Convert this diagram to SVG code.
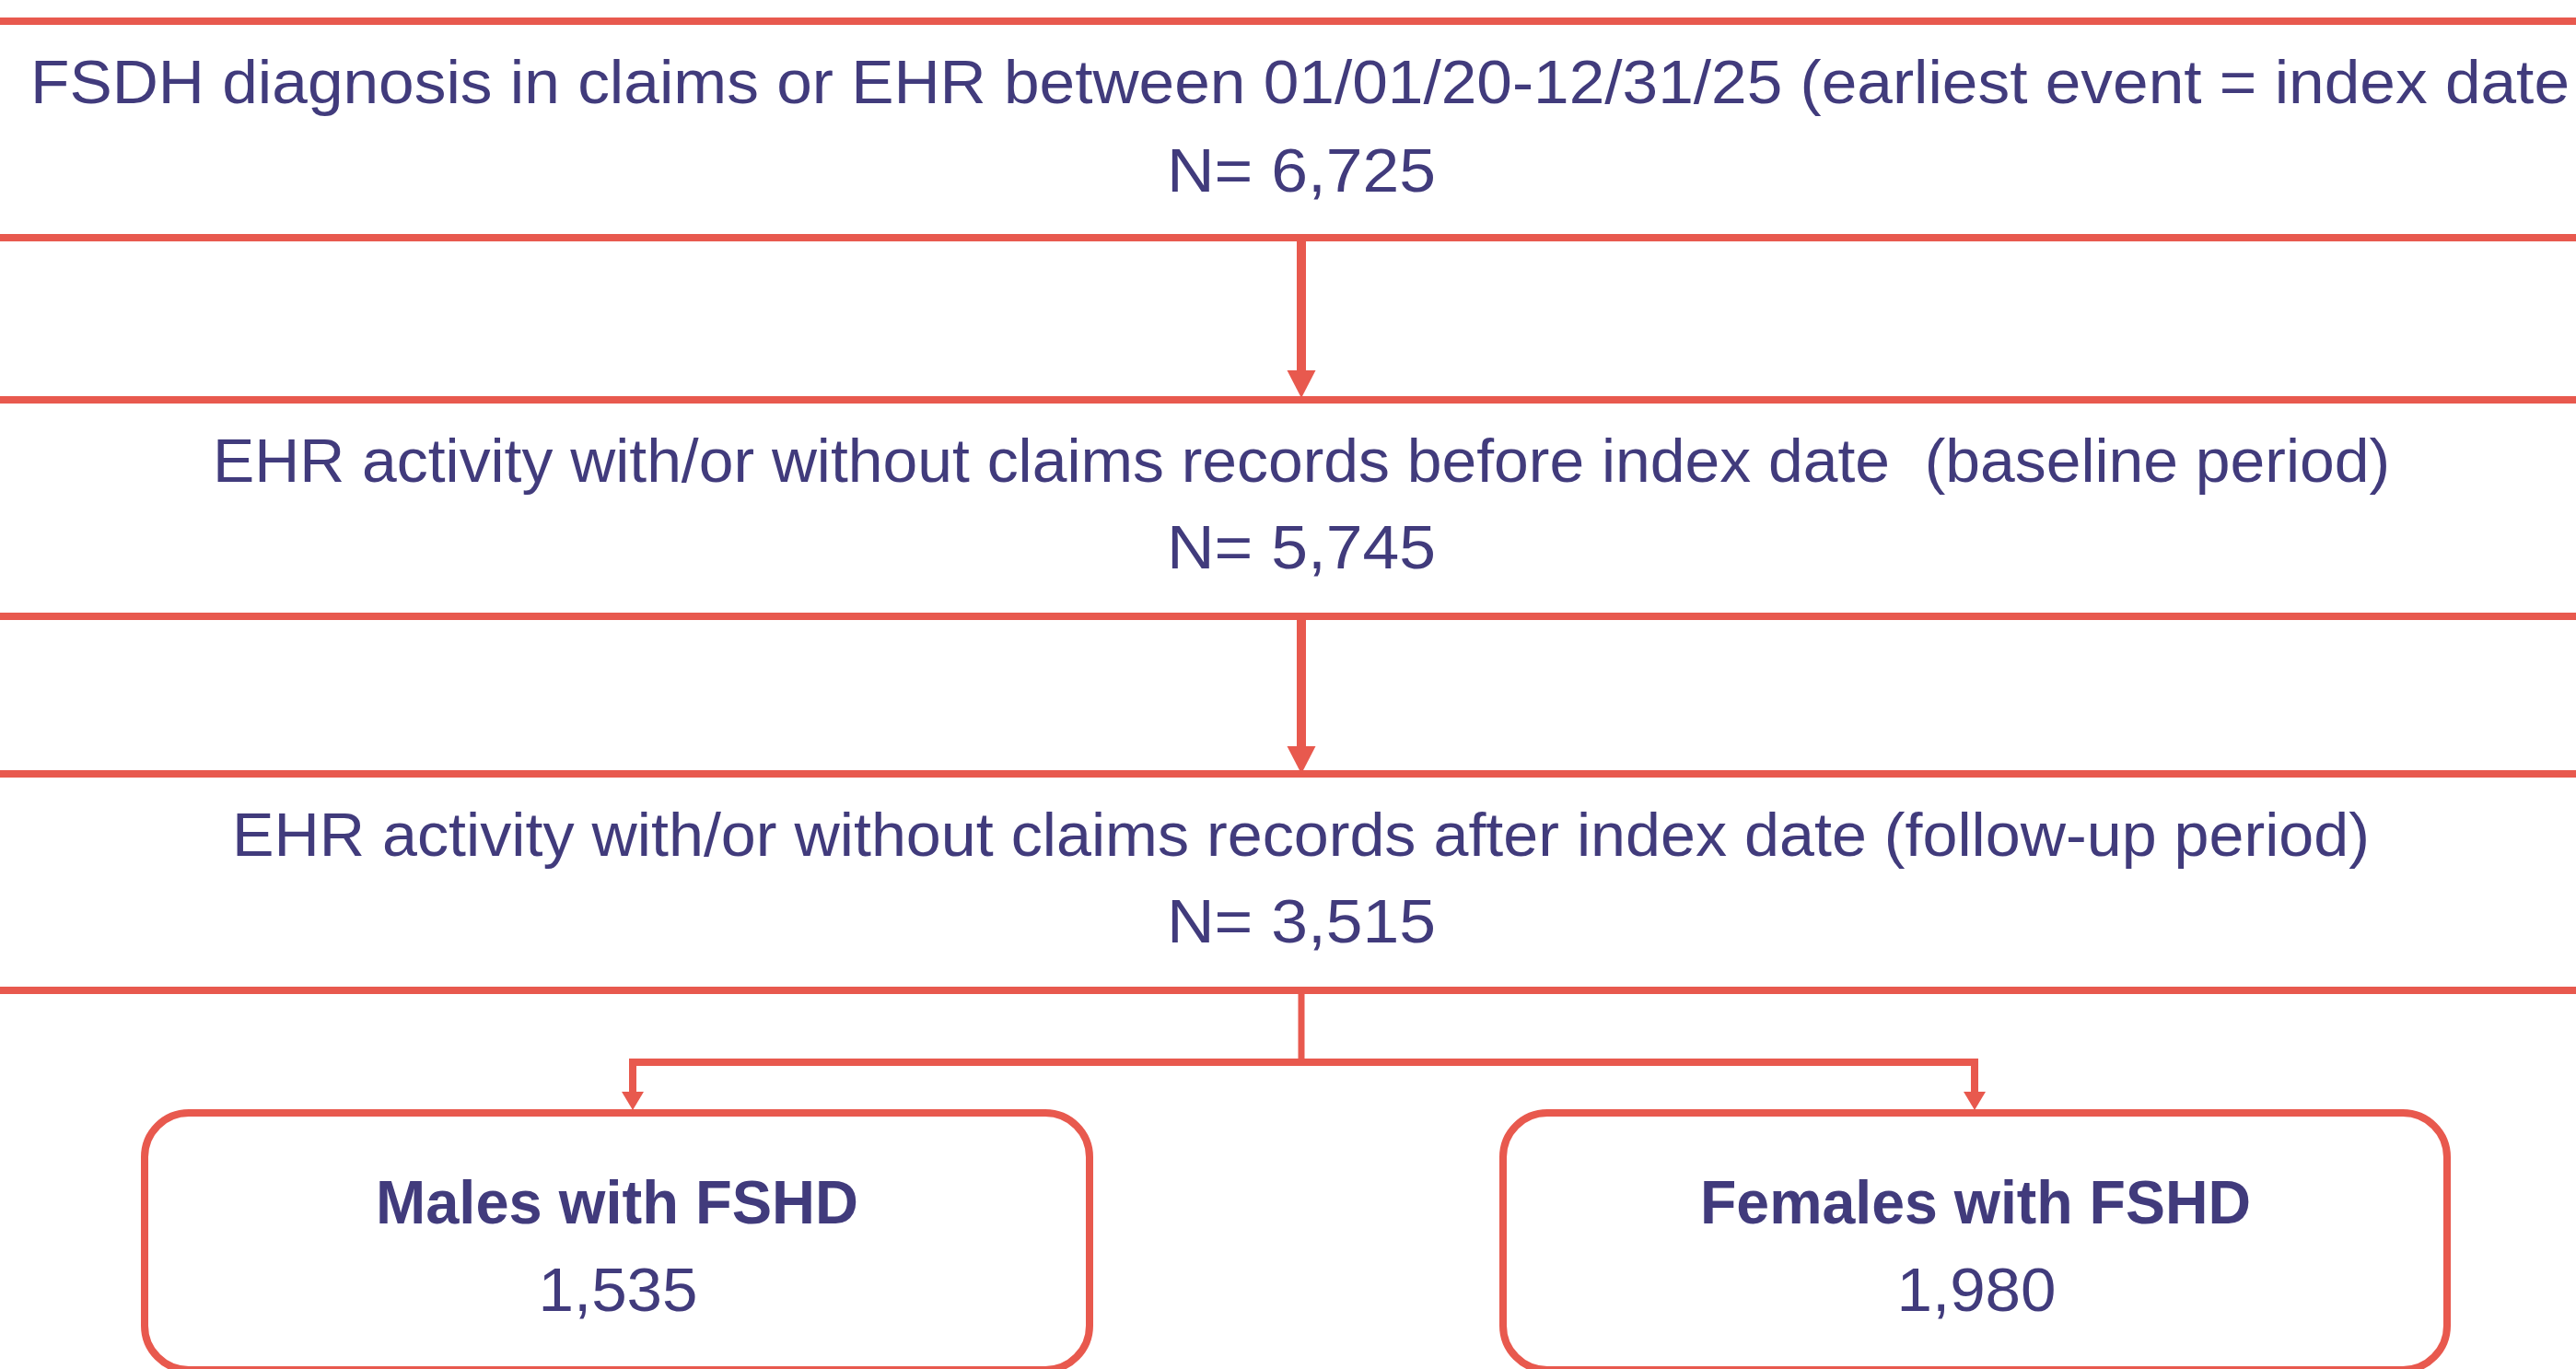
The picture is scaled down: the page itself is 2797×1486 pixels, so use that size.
<svg xmlns="http://www.w3.org/2000/svg" width="2797" height="1486" viewBox="0 0 2797 1486">
  <style>
    .box { fill: #FFFFFF; stroke: #E8594E; stroke-width: 8; }
    .conn { fill: none; stroke: #E8594E; }
    .t { font-family: "Liberation Sans", Arial, sans-serif; font-size: 67px; fill: #413B7C; white-space: pre; }
    .b { font-weight: bold; }
  </style>
  <defs>
    <marker id="bigArrow" viewBox="0 -16 30 32" markerWidth="30" markerHeight="32" refX="0" refY="0" orient="auto" markerUnits="userSpaceOnUse">
      <path d="M0,-15.5 L30,0 L0,15.5 Z" fill="#E8594E"/>
    </marker>
    <marker id="smallArrow" viewBox="0 -12 20 24" markerWidth="20" markerHeight="24" refX="0" refY="0" orient="auto" markerUnits="userSpaceOnUse">
      <path d="M0,-12 L20,0 L0,12 Z" fill="#E8594E"/>
    </marker>
  </defs>
  <rect x="0" y="0" width="2797" height="1486" fill="#FFFFFF"/>

  <g id="box1">
    <rect class="box" x="-20" y="23" width="2837" height="235"/>
    <text class="t" x="33" y="112" textLength="2757" lengthAdjust="spacingAndGlyphs">FSDH diagnosis in claims or EHR between 01/01/20-12/31/25 (earliest event = index date</text>
    <text class="t" x="1413" y="208" text-anchor="middle" textLength="292" lengthAdjust="spacingAndGlyphs">N= 6,725</text>
  </g>

  <g id="box2">
    <rect class="box" x="-20" y="434" width="2837" height="235"/>
    <text class="t" x="1413" y="523" text-anchor="middle" textLength="2364" lengthAdjust="spacingAndGlyphs">EHR activity with/or without claims records before index date  (baseline period)</text>
    <text class="t" x="1413" y="617" text-anchor="middle" textLength="292" lengthAdjust="spacingAndGlyphs">N= 5,745</text>
  </g>

  <g id="box3">
    <rect class="box" x="-20" y="840" width="2837" height="235"/>
    <text class="t" x="1412.5" y="929" text-anchor="middle" textLength="2321" lengthAdjust="spacingAndGlyphs">EHR activity with/or without claims records after index date (follow-up period)</text>
    <text class="t" x="1413" y="1023" text-anchor="middle" textLength="292" lengthAdjust="spacingAndGlyphs">N= 3,515</text>
  </g>

  <g id="males">
    <rect class="box" x="157" y="1208" width="1026" height="279" rx="48" ry="48"/>
    <text class="t b" x="670" y="1328" text-anchor="middle" textLength="524" lengthAdjust="spacingAndGlyphs">Males with FSHD</text>
    <text class="t" x="671" y="1423" text-anchor="middle" textLength="173" lengthAdjust="spacingAndGlyphs">1,535</text>
  </g>

  <g id="females">
    <rect class="box" x="1632" y="1208" width="1025" height="279" rx="48" ry="48"/>
    <text class="t b" x="2145" y="1328" text-anchor="middle" textLength="598" lengthAdjust="spacingAndGlyphs">Females with FSHD</text>
    <text class="t" x="2146" y="1423" text-anchor="middle" textLength="173" lengthAdjust="spacingAndGlyphs">1,980</text>
  </g>

  <g id="connectors">
    <line class="conn" x1="1413" y1="262" x2="1413" y2="402" stroke-width="10" marker-end="url(#bigArrow)"/>
    <line class="conn" x1="1413" y1="673" x2="1413" y2="810" stroke-width="10" marker-end="url(#bigArrow)"/>
    <path class="conn" d="M1413,1079 V1153" stroke-width="7"/>
    <path class="conn" d="M687,1185 V1153 H2144 V1185" stroke-width="8"/>
    <line class="conn" x1="687" y1="1170" x2="687" y2="1185" stroke-width="8" marker-end="url(#smallArrow)"/>
    <line class="conn" x1="2144" y1="1170" x2="2144" y2="1185" stroke-width="8" marker-end="url(#smallArrow)"/>
  </g>
</svg>
